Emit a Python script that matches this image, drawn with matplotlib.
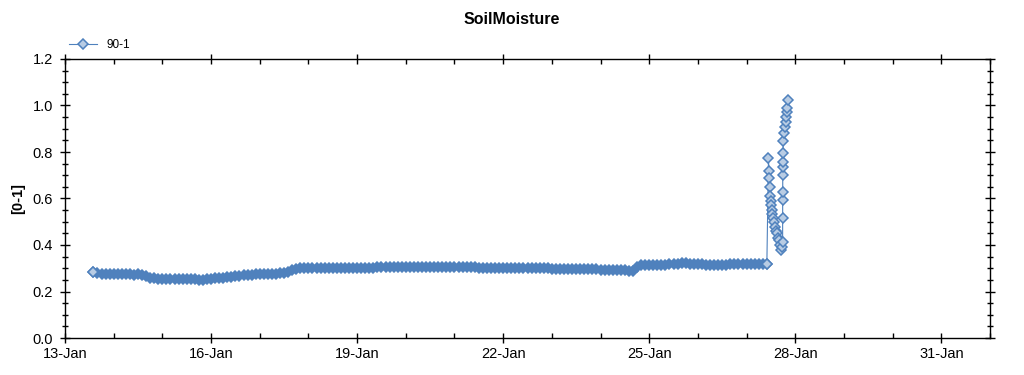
import datetime as dt

import numpy as np
import matplotlib
matplotlib.use("Agg")
import matplotlib.pyplot as plt
import matplotlib.dates as mdates
from matplotlib.ticker import MultipleLocator, FormatStrFormatter

plt.rcParams["font.family"] = ["Liberation Sans", "DejaVu Sans"]

# logger readings, one every 2 hours, first one on 13-Jan 14:00
series_name = "90-1"
start = dt.datetime(2014, 1, 13, 14, 0)
step_hours = 2
base_values = [
    # 13-Jan 14:00 ...
    0.285, 0.278, 0.276, 0.275, 0.275, 0.274, 0.274, 0.275, 0.274, 0.274, 0.273, 0.274,
    # 14-Jan 14:00 ...
    0.272, 0.268, 0.260, 0.256, 0.255, 0.254, 0.254, 0.253, 0.254, 0.254, 0.253, 0.254,
    # 15-Jan 14:00 ...
    0.253, 0.252, 0.251, 0.250, 0.252, 0.254, 0.256, 0.258, 0.260, 0.262, 0.264, 0.266,
    # 16-Jan 14:00 ...
    0.268, 0.270, 0.272, 0.273, 0.274, 0.274, 0.275, 0.275, 0.276, 0.277, 0.278, 0.280,
    # 17-Jan 14:00 ...
    0.285, 0.292, 0.298, 0.302, 0.303, 0.302, 0.302, 0.301, 0.301, 0.302, 0.302, 0.301,
    # 18-Jan 14:00 ...
    0.301, 0.300, 0.301, 0.301, 0.300, 0.301, 0.301, 0.302, 0.302, 0.303, 0.304, 0.305,
    # 19-Jan 14:00 ...
    0.306, 0.306, 0.307, 0.307, 0.306, 0.307, 0.307, 0.306, 0.307, 0.307, 0.306, 0.306,
    # 20-Jan 14:00 ...
    0.306, 0.305, 0.305, 0.305, 0.304, 0.305, 0.305, 0.304, 0.304, 0.304, 0.304, 0.303,
    # 21-Jan 14:00 ...
    0.303, 0.303, 0.302, 0.303, 0.302, 0.302, 0.302, 0.301, 0.301, 0.301, 0.300, 0.300,
    # 22-Jan 14:00 ...
    0.300, 0.300, 0.299, 0.299, 0.299, 0.298, 0.298, 0.298, 0.297, 0.297, 0.297, 0.296,
    # 23-Jan 14:00 ...
    0.296, 0.296, 0.295, 0.295, 0.295, 0.294, 0.294, 0.294, 0.293, 0.293, 0.292, 0.292,
    # 24-Jan 14:00 ...
    0.290, 0.289, 0.305, 0.312, 0.313, 0.313, 0.314, 0.315, 0.316, 0.316, 0.317, 0.318,
    # 25-Jan 14:00 ...
    0.320, 0.321, 0.321, 0.320, 0.319, 0.318, 0.317, 0.316, 0.316, 0.315, 0.315, 0.315,
    # 26-Jan 14:00 ...
    0.316, 0.317, 0.317, 0.318, 0.318, 0.318, 0.318, 0.318, 0.318, 0.318, 0.320,
]

# the wet event on 27-Jan, denser readings (minutes after 27-Jan 10:00)
event_minutes = [
    48, 62, 77, 91, 106, 120, 134, 149, 163, 192, 221, 250, 278, 307, 336, 365,
    394, 422, 437,
    466, 467, 468, 469, 470, 471, 472, 474,
    490, 518, 547, 562, 576, 590, 605, 622,
]
event_values = [
    0.773, 0.718, 0.690, 0.650, 0.610, 0.590, 0.572, 0.550, 0.535, 0.516, 0.500, 0.479,
    0.460, 0.450, 0.430, 0.420, 0.400, 0.378, 0.390,
    0.414, 0.515, 0.594, 0.630, 0.700, 0.737, 0.758, 0.794,
    0.849, 0.880, 0.909, 0.930, 0.952, 0.970, 0.988, 1.024,
]

base_times = [start + dt.timedelta(hours=step_hours * i) for i in range(len(base_values))]
event_start = dt.datetime(2014, 1, 27, 10, 0)
event_times = [event_start + dt.timedelta(minutes=m) for m in event_minutes]

line_color = "#4f81bd"
face_color = "#b8cce4"

fig = plt.figure(figsize=(10.24, 3.75), dpi=100)
ax = fig.add_axes([65 / 1024, 1 - 338 / 375, 925 / 1024, 279 / 375])

# the dry period is logged so densely that the markers merge into one band
ax.plot(base_times, base_values, color=line_color, lw=0.8, marker="D", ms=5.2,
        mfc=line_color, mec=line_color, mew=1.1)
ax.plot(base_times[:1], base_values[:1], ls="none", marker="D", ms=5.2,
        mfc=face_color, mec=line_color, mew=1.1)
ax.plot(base_times[-1:] + event_times, base_values[-1:] + event_values,
        color=line_color, lw=0.8, marker="D", ms=5.2,
        mfc=face_color, mec=line_color, mew=1.1, label=series_name)

ax.set_xlim(dt.datetime(2014, 1, 13), dt.datetime(2014, 2, 1))
ax.set_ylim(0, 1.2)

ax.xaxis.set_major_locator(mdates.DayLocator(bymonthday=range(4, 32, 3)))
ax.xaxis.set_minor_locator(mdates.DayLocator())
ax.xaxis.set_major_formatter(mdates.DateFormatter("%d-%b"))
ax.yaxis.set_major_locator(MultipleLocator(0.2))
ax.yaxis.set_minor_locator(MultipleLocator(0.05))
ax.yaxis.set_major_formatter(FormatStrFormatter("%.1f"))

ax.tick_params(axis="both", which="major", direction="inout", length=7, width=1,
               labelsize=10.5, colors="black", top=True, right=True)
ax.tick_params(axis="both", which="minor", direction="in", length=3.5, width=1,
               top=True, right=True)
ax.tick_params(axis="y", which="minor", direction="inout", length=4.5)
ax.tick_params(axis="x", which="major", pad=3)
ax.tick_params(axis="y", which="major", pad=5)
for side in ax.spines.values():
    side.set_linewidth(1)

fig.text(0.5, 1 - 19 / 375, "SoilMoisture", ha="center", va="center",
         fontsize=11.5, fontweight="bold")
fig.text(18 / 1024, 1 - 198 / 375, "[0-1]", ha="center", va="center",
         rotation=90, fontsize=10.5, fontweight="bold")

ax.legend(loc="center left", bbox_to_anchor=(69 / 1024, 1 - 45 / 375),
          bbox_transform=fig.transFigure, frameon=False, fontsize=8.5,
          borderpad=0, borderaxespad=0, handlelength=2.4, handletextpad=0.8)

fig.savefig("out.png", dpi=100)
